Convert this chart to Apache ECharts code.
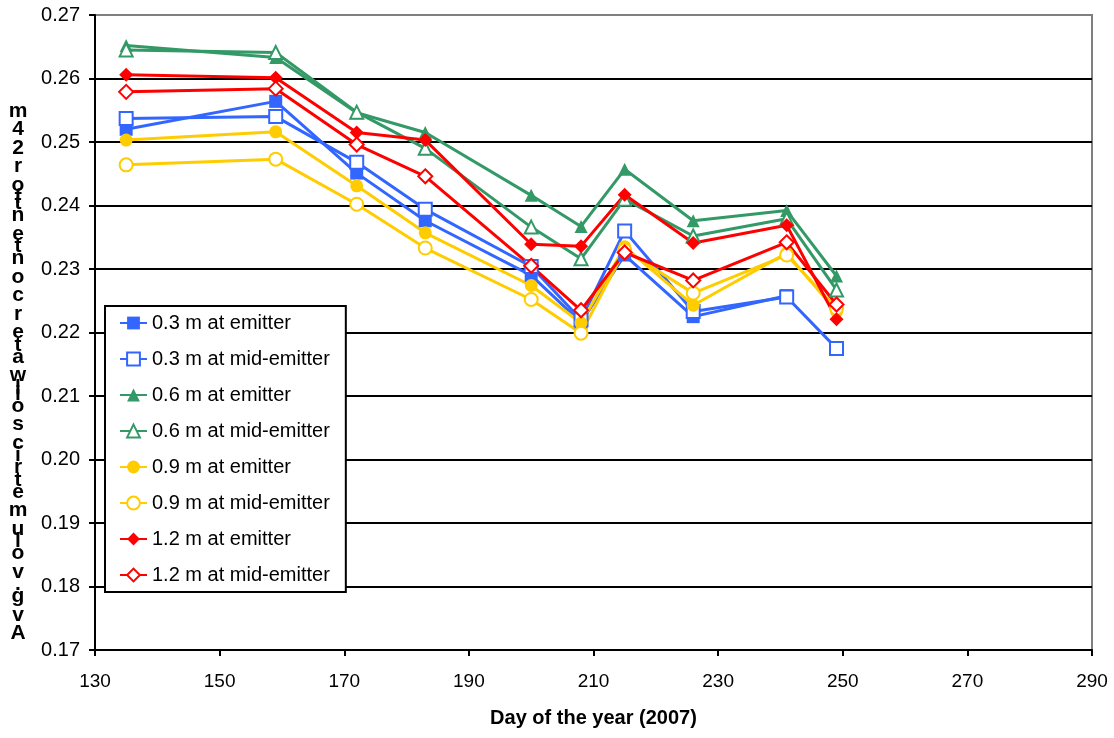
<!DOCTYPE html>
<html>
<head>
<meta charset="utf-8">
<script src="https://cdn.jsdelivr.net/npm/echarts@6/dist/echarts.min.js"></script>
<style>
  html, body { margin: 0; padding: 0; background: #fff; }
  #chart { width: 1114px; height: 738px; }
</style>
</head>
<body>
<div id="chart"></div>
<script>
// day of year for each reading
const days = [135, 159, 172, 183, 200, 208, 215, 226, 241, 249];

// avg. volumetric water content per depth / position
const emitter03 = [0.2520, 0.2564, 0.2451, 0.2376, 0.2290, 0.2216, 0.2322, 0.2225, 0.2258, null];
const midEmitter03 = [0.2537, 0.2540, 0.2468, 0.2394, 0.2304, 0.2220, 0.2360, 0.2233, 0.2256, 0.2175];
const emitter06 = [0.2652, 0.2633, 0.2546, 0.2515, 0.2416, 0.2367, 0.2457, 0.2376, 0.2392, 0.2289];
const midEmitter06 = [0.2645, 0.2641, 0.2547, 0.2490, 0.2366, 0.2316, 0.2410, 0.2352, 0.2379, 0.2267];
const emitter09 = [0.2503, 0.2516, 0.2431, 0.2357, 0.2274, 0.2215, 0.2335, 0.2243, 0.2325, 0.2233];
const midEmitter09 = [0.2464, 0.2473, 0.2402, 0.2333, 0.2252, 0.2199, 0.2330, 0.2262, 0.2322, 0.2238];
const emitter12 = [0.2606, 0.2601, 0.2515, 0.2503, 0.2339, 0.2336, 0.2417, 0.2341, 0.2369, 0.2221];
const midEmitter12 = [0.2579, 0.2584, 0.2496, 0.2446, 0.2305, 0.2235, 0.2326, 0.2282, 0.2342, 0.2244];

const seriesNames = [
  '0.3 m at emitter', '0.3 m at mid-emitter',
  '0.6 m at emitter', '0.6 m at mid-emitter',
  '0.9 m at emitter', '0.9 m at mid-emitter',
  '1.2 m at emitter', '1.2 m at mid-emitter'
];

const xTitle = 'Day of the year (2007)';
// the y title is drawn as a reversed vertical stack of glyphs, like the original
const yTitle = 'Avg. volumetric soil water content for 24 m';

const FONT = '"Liberation Sans", Arial, sans-serif';
const BLUE = '#3366ff', GREEN = '#339966', YELLOW = '#ffcc00', RED = '#ff0000';

const chart = echarts.init(document.getElementById('chart'), null, { renderer: 'canvas' });

const makeLine = (name, values, color, symbol) => ({
  name,
  type: 'line',
  data: days.map((d, i) => [d, values[i]]).filter(p => p[1] !== null),
  symbol,
  symbolSize: symbol.includes('iamond') ? 14 : 13,
  lineStyle: { color, width: 3 },
  itemStyle: { color, borderWidth: 2.5 },
  emphasis: { disabled: true },
  animation: false
});

// stacked y title glyphs
const buildYTitle = () => {
  const chars = yTitle.split('').reverse().filter(c => c !== ' ');
  const adv = c => ('ftil.'.includes(c) ? 6 : 18.5);
  const els = [];
  let y = 111;
  chars.forEach((c, i) => {
    if (i > 0) y += (adv(chars[i - 1]) + adv(c)) / 2;
    els.push({
      type: 'text',
      x: 18,
      y,
      style: {
        text: c,
        font: 'bold 21px ' + FONT,
        fill: '#000',
        align: 'center',
        verticalAlign: 'middle'
      }
    });
  });
  return els;
};

const option = {
  backgroundColor: '#fff',
  animation: false,
  grid: {
    left: 95,
    right: 22,
    top: 15,
    bottom: 88,
    show: true,
    borderColor: '#808080',
    borderWidth: 2,
    backgroundColor: 'transparent'
  },
  legend: {
    orient: 'vertical',
    left: 105,
    top: 306,
    padding: [7, 16, 7, 14],
    itemGap: 16,
    itemWidth: 27,
    itemHeight: 16,
    backgroundColor: '#fff',
    borderColor: '#000',
    borderWidth: 2,
    borderRadius: 0,
    textStyle: { fontFamily: FONT, fontSize: 20, lineHeight: 19, color: '#000' },
    data: seriesNames
  },
  xAxis: {
    type: 'value',
    min: 130,
    max: 290,
    interval: 20,
    name: xTitle,
    nameLocation: 'middle',
    nameGap: 58,
    nameTextStyle: { fontFamily: FONT, fontSize: 20, fontWeight: 'bold', color: '#000' },
    axisLine: { lineStyle: { color: '#000', width: 2 } },
    axisTick: { show: true, inside: false, length: 6, lineStyle: { color: '#000', width: 2 } },
    axisLabel: { fontFamily: FONT, fontSize: 19, color: '#000', margin: 22 },
    splitLine: { show: false }
  },
  yAxis: {
    type: 'value',
    min: 0.17,
    max: 0.27,
    interval: 0.01,
    axisLine: { show: true, lineStyle: { color: '#000', width: 2 } },
    axisTick: { show: true, inside: false, length: 6, lineStyle: { color: '#000', width: 2 } },
    axisLabel: {
      fontFamily: FONT,
      fontSize: 20,
      color: '#000',
      margin: 15,
      formatter: v => v.toFixed(2)
    },
    splitLine: { show: true, showMinLine: false, showMaxLine: false, lineStyle: { color: '#000', width: 2 } }
  },
  graphic: buildYTitle(),
  series: [
    makeLine(seriesNames[0], emitter03, BLUE, 'rect'),
    makeLine(seriesNames[1], midEmitter03, BLUE, 'emptyRect'),
    makeLine(seriesNames[2], emitter06, GREEN, 'triangle'),
    makeLine(seriesNames[3], midEmitter06, GREEN, 'emptyTriangle'),
    makeLine(seriesNames[4], emitter09, YELLOW, 'circle'),
    makeLine(seriesNames[5], midEmitter09, YELLOW, 'emptyCircle'),
    makeLine(seriesNames[6], emitter12, RED, 'diamond'),
    makeLine(seriesNames[7], midEmitter12, RED, 'emptyDiamond')
  ]
};

chart.setOption(option);
</script>
</body>
</html>
